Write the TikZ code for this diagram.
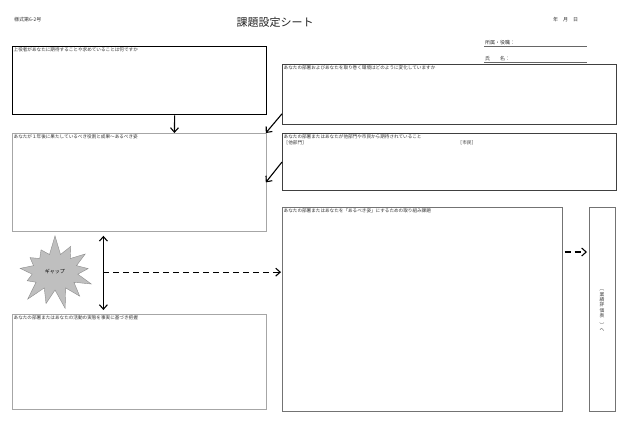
\documentclass[tikz,border=0pt]{standalone}
\usepackage{fontspec}
\setmainfont{Noto Sans CJK JP}
\usetikzlibrary{arrows.meta, positioning, shapes.symbols, shadows}

\begin{document}
\begin{tikzpicture}[
  x=1pt, y=-1pt,
  sheetbox/.style={rectangle, draw=black!75, line width=0.8pt, fill=white, inner sep=0pt, anchor=north west},
  softbox/.style={sheetbox, draw=black!35},
  boldbox/.style={sheetbox, draw=black, line width=1.3pt, drop shadow={shadow xshift=0.8pt, shadow yshift=-0.8pt, fill=black, opacity=1}},
  edgebox/.style={sheetbox, draw=black!55, line width=0.6pt, drop shadow={shadow xshift=1pt, shadow yshift=-1pt, fill=black, opacity=1}},
  capbox/.style={anchor=north west, inner sep=1.5pt, font=\fontsize{4.6}{5.6}\selectfont, text=black!80},
  headtext/.style={inner sep=0pt, font=\fontsize{5}{6}\selectfont, text=black!80},
  arrow/.style={-{Straight Barb[length=4.5pt, width=8pt]}, line width=1.1pt},
  dasharrow/.style={arrow, dash pattern=on 6pt off 4pt}
]
  \useasboundingbox[fill=white] (0,0) rectangle (630,440);

  % header of the sheet
  \node[headtext, anchor=west] (formno) at (14,20) {様式第6-2号};
  \node[inner sep=0pt, font=\fontsize{11}{13}\selectfont, text=black!85] (title) at (275,22) {課題設定シート};
  \node[headtext, anchor=west] (date) at (553,20) {年　月　日};
  \node[headtext, anchor=south west] (post) at (485,45) {所属・役職：};
  \node[headtext, anchor=south west] (person) at (485,61) {氏　　名：};
  \draw[black!60, line width=0.4pt] (post.south west) ++(-1,1) -- (587,46);
  \draw[black!60, line width=0.4pt] (person.south west) ++(-1,1) -- (587,62);

  % the boxes of the sheet
  \node[boldbox, minimum width=254pt, minimum height=68pt] (boss) at (12,46) {};
  \node[sheetbox, minimum width=334pt, minimum height=60pt] (env) at (282,64) {};
  \node[sheetbox, minimum width=334pt, minimum height=57pt] (others) at (282,133) {};
  \node[softbox, minimum width=254pt, minimum height=98pt] (ideal) at (12,133) {};
  \node[softbox, minimum width=254pt, minimum height=95pt] (actual) at (12,314) {};
  \node[edgebox, minimum width=280pt, minimum height=204pt] (task) at (282,207) {};
  \node[edgebox, minimum width=26pt, minimum height=204pt] (review) at (589,207) {};

  % captions in the top left corners
  \node[capbox] (bosscap) at (boss.north west) {上役者があなたに期待することや求めていることは何ですか};
  \node[capbox] (envcap) at (env.north west) {あなたの部署およびあなたを取り巻く環境はどのように変化していますか};
  \node[capbox] (otherscap) at (others.north west) {あなたの部署またはあなたが他部門や市民から期待されていること};
  \node[capbox, below=-1.5pt of otherscap.south west, anchor=north west] (deptcap) {［他部門］};
  \node[capbox, anchor=west] (citycap) at (deptcap.west -| 456,0) {［市民］};
  \node[capbox] (idealcap) at (ideal.north west) {あなたが１年後に果たしているべき役割と成果～あるべき姿};
  \node[capbox] (actualcap) at (actual.north west) {あなたの部署またはあなたの活動の実態を事実に基づき把握};
  \node[capbox] (taskcap) at (task.north west) {あなたの部署またはあなたを「あるべき姿」にするための取り組み課題};
  \node[inner sep=0pt, align=center, font=\fontsize{4.8}{5.2}\selectfont, text=black!75] (reviewtxt) at (602,309)
    {\rotatebox{-90}{〔}\\業\\績\\評\\価\\表\\\rotatebox{-90}{〕}\\へ};

  % the gap
  \node[starburst, starburst points=13, starburst point height=20pt, random starburst=7,
        fill=black!25, draw=black!45, line width=0.4pt, minimum width=86pt, minimum height=76pt,
        font=\fontsize{5}{6}\selectfont] (gap) at (55,272) {ギャップ};

  % arrows
  \draw[arrow] ([xshift=35pt]boss.south) -- ([xshift=35pt]ideal.north);
  \draw[arrow] ([yshift=11pt]env.south west) -- ([xshift=-1pt]ideal.north east);
  \draw[arrow] ([yshift=-29pt]others.north west) -- ([xshift=-1pt]ideal.east);
  \draw[arrow, {Straight Barb[length=4.5pt, width=8pt]}-{Straight Barb[length=4.5pt, width=8pt]}]
    ([xshift=-36pt, yshift=-4pt]ideal.south) -- coordinate[pos=0.49] (gapmid) ([xshift=-36pt, yshift=4pt]actual.north);
  \draw[dasharrow] (gapmid) -- ([xshift=-1pt]gapmid -| task.west);
  \coordinate (tasknext) at ([yshift=-45pt]task.north east);
  \draw[dasharrow] ([xshift=2pt]tasknext) -- ([xshift=-2pt]tasknext -| review.west);
\end{tikzpicture}
\end{document}
